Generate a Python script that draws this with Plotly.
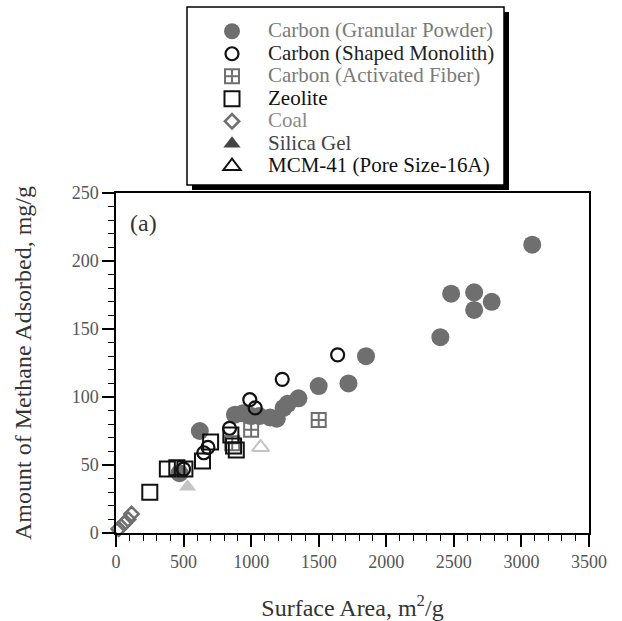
import plotly.graph_objects as go

# ---- data ----
gran_x = [470, 620, 880, 940, 1000, 1060, 1140, 1190, 1240, 1270, 1350, 1500, 1720, 1850, 2400, 2480, 2650, 2650, 2780, 3080]
gran_y = [44, 75, 87, 88, 86, 86, 85, 84, 92, 95, 99, 108, 110, 130, 144, 176, 177, 164, 170, 212]

mono_x = [500, 650, 680, 840, 990, 1030, 1230, 1640]
mono_y = [47, 59, 63, 77, 98, 92, 113, 131]

fiber_x = [860, 1000, 1500]
fiber_y = [66, 76, 83]

zeo_x = [250, 380, 450, 510, 640, 700, 850, 870, 890]
zeo_y = [30, 47, 48, 47, 53, 67, 72, 64, 61]

coal_x = [20, 60, 90, 115]
coal_y = [3, 7, 10, 14]

silica_x = [530]
silica_y = [34]

mcm_x = [1070]
mcm_y = [63]

names = ["Carbon (Granular Powder)", "Carbon (Shaped Monolith)", "Carbon (Activated Fiber)",
         "Zeolite", "Coal", "Silica Gel", "MCM-41 (Pore Size-16A)"]

FONT = "Liberation Serif, Times New Roman, serif"
fig = go.Figure()

def add(x, y, name, symbol, color, size, lw, lcolor, txtcolor, legcolor=None, leglcolor=None):
    label = f'<span style="color:{txtcolor};font-size:21px">{name}</span>'
    if legcolor is None:
        fig.add_trace(go.Scatter(x=x, y=y, mode="markers", name=label, cliponaxis=False,
                                 marker=dict(symbol=symbol, size=size, color=color,
                                             line=dict(width=lw, color=lcolor))))
    else:
        fig.add_trace(go.Scatter(x=x, y=y, mode="markers", name=label, showlegend=False,
                                 cliponaxis=False, legendgroup=name,
                                 marker=dict(symbol=symbol, size=size, color=color,
                                             line=dict(width=lw, color=lcolor))))
        fig.add_trace(go.Scatter(x=[None], y=[None], mode="markers", name=label,
                                 legendgroup=name,
                                 marker=dict(symbol=symbol, size=size, color=legcolor,
                                             line=dict(width=lw, color=leglcolor))))

add(gran_x, gran_y, names[0], "circle", "#6f6f6f", 18, 0, "#6f6f6f", "#7a7a7a")
add(mono_x, mono_y, names[1], "circle-open", "#111111", 13, 2.2, "#111111", "#222222")
add(fiber_x, fiber_y, names[2], "square-cross-open", "#6f6f6f", 14, 2, "#6f6f6f", "#7a7a7a")
add(zeo_x, zeo_y, names[3], "square-open", "#111111", 15, 2, "#111111", "#111111")
add(coal_x, coal_y, names[4], "diamond-open", "#6f6f6f", 11, 2.5, "#6f6f6f", "#8a8a8a")
add(silica_x, silica_y, names[5], "triangle-up", "#c4c4c4", 15, 0, "#c4c4c4", "#444444",
    legcolor="#444444", leglcolor="#444444")
add(mcm_x, mcm_y, names[6], "triangle-up-open", "#c4c4c4", 15, 2, "#c4c4c4", "#111111",
    legcolor="#111111", leglcolor="#111111")

L, R, T, B = 116, 589, 193, 533
W, H = 622, 621

def px(xp):
    return (xp - L) / (R - L)

def py(yp):
    return (B - yp) / (B - T)

# legend box and shadow
fig.add_shape(type="rect", xref="paper", yref="paper",
              x0=px(192), x1=px(509), y0=py(190), y1=py(12),
              fillcolor="black", line=dict(width=0))
fig.add_shape(type="rect", xref="paper", yref="paper",
              x0=px(187), x1=px(504), y0=py(185), y1=py(7),
              fillcolor="white", line=dict(width=1.5, color="black"))

fig.add_annotation(text="(a)", xref="paper", yref="paper", x=px(143), y=py(223),
                   xanchor="center", yanchor="middle",
                   showarrow=False, font=dict(family=FONT, size=24, color="#333333"))

axis_common = dict(showline=True, linecolor="black", linewidth=1.5, mirror=True,
                   ticks="outside", ticklen=12, tickwidth=1.5, tickcolor="black",
                   showgrid=False, zeroline=False, automargin=False,
                   tickfont=dict(family=FONT, size=18, color="#555555"))

fig.update_layout(
    width=W, height=H,
    margin=dict(l=L, r=W - R, t=T, b=H - B, autoexpand=False),
    paper_bgcolor="white", plot_bgcolor="white",
    font=dict(family=FONT),
    xaxis=dict(range=[0, 3500], dtick=500, tick0=0,
               minor=dict(dtick=100, ticks="outside", ticklen=6, tickwidth=1.2, tickcolor="black"),
               title=dict(text="Surface Area, m<sup>2</sup>/g", standoff=29,
                          font=dict(family=FONT, size=24, color="#333333")),
               **axis_common),
    yaxis=dict(range=[0, 250], dtick=50, tick0=0,
               minor=dict(dtick=10, ticks="outside", ticklen=6, tickwidth=1.2, tickcolor="black"),
               title=dict(text="Amount of Methane Adsorbed, mg/g", standoff=33,
                          font=dict(family=FONT, size=24, color="#333333")),
               **axis_common),
    legend=dict(x=px(196), y=py(15), xanchor="left", yanchor="top",
                bgcolor="rgba(0,0,0,0)", borderwidth=0,
                font=dict(family=FONT, size=15), itemwidth=62, tracegroupgap=0),
    showlegend=True,
)

fig.write_html("out.html", config={"displayModeBar": False},
               post_script="document.body.style.margin='0';document.body.style.padding='0';")
